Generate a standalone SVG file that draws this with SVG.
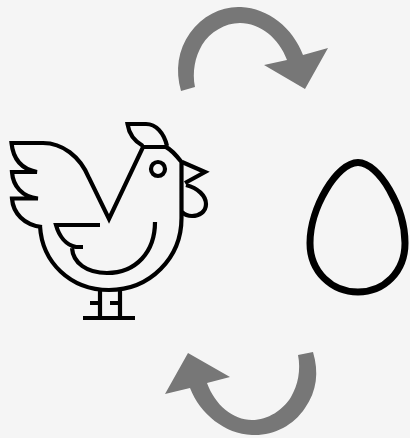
<svg xmlns="http://www.w3.org/2000/svg" width="410" height="438" viewBox="0 0 410 438">
<defs>
<style>
.ink{fill:none;stroke:#000;stroke-width:4.2;stroke-linejoin:miter;stroke-linecap:butt}
.cycle{fill:#777;stroke:none}
</style>
<filter id="soft" x="-5%" y="-5%" width="110%" height="110%"><feGaussianBlur stdDeviation="0.6"/></filter>
</defs>
<rect width="410" height="438" fill="#f5f5f5"/>
<g id="chicken" class="ink" filter="url(#soft)">
<path d="M40 226C42 262 70 290 109 290C150 290 181.500 258 181.500 218V162C176 155 172 150 166 147H143L109 219L89 178C80 156 62 143 43 143H11.500C13 158 21 169 37 172H12C13 186 22 197 38 198.500H12C13 213 24 225 42 227"/>
<path d="M143 146C134 141 129 134 127.500 124H146C156 124 164 133 167 146"/>
<circle cx="158" cy="169" r="7"/>
<path d="M182 162L205 172L185 183"/>
<path d="M186 185C198 188 206 196 206 204C206 212 199 216 192 216C188 216 185 215 182 212"/>
<path d="M100 225H56C59 236 66 245 76 247H83M72 248C73 263 87 273 107 273C136 273 155 252 155 222"/>
<path d="M100 289V318M120 289V318M83 318H135M90 303H100M110 303H120"/>
</g>
<g id="egg" filter="url(#soft)">
<path class="ink" style="stroke-width:7" d="M358 162.500C337 162.500 310 208 310 243C310 272 332 292 358 292C384 292 405 272 405 243C405 208 379 162.500 358 162.500Z"/>
</g>
<g id="connectors" class="cycle" filter="url(#soft)">
<path id="cycle-top" d="M181 91C175 70 178 50 190 33C203 15 222 6 241 7C268 8 293 28 303 55L328 48L305 89L264 65L287 60C279 38 260 23 240 23C225 23 210 32 202 45C195 57 192 72 195 87Z"/>
<path id="cycle-bottom" d="M298 355L313 352C319 372 317 391 305 408C293 426 273 436 252 435C225 434 200 414 190 388L165 394L188 353L230 377L207 383C215 405 233 420 252 420C268 420 283 410 291 397C298 385 301 370 298 355Z"/>
</g>
</svg>
